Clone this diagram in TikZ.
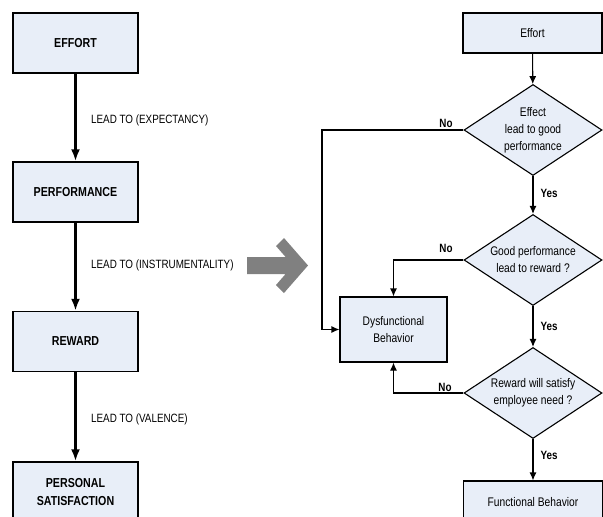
\documentclass[tikz,border=0pt]{standalone}
\usepackage{fontspec}
\setmainfont[FakeStretch=0.82]{Liberation Sans}
\usetikzlibrary{shapes.geometric,arrows.meta,calc}
\definecolor{boxfill}{RGB}{232,238,248}
\definecolor{arrowgray}{RGB}{128,128,128}
\begin{document}
\begin{tikzpicture}[x=1pt,y=-1pt,
  lbox/.style={draw=black, line width=1.4pt, fill=boxfill, minimum width=125pt, minimum height=60pt, inner sep=0pt, align=center, font=\fontsize{13}{18}\selectfont\bfseries},
  rbox/.style={draw=black, line width=1.1pt, fill=boxfill, minimum width=139pt, minimum height=40pt, inner sep=0pt, align=center, font=\fontsize{12.5}{17}\selectfont},
  dec/.style={diamond, aspect=1.52, draw=black, line width=1.1pt, fill=boxfill, minimum width=138pt, minimum height=91pt, inner sep=0pt, align=center, font=\fontsize{12.5}{17}\selectfont},
  bigarr/.style={line width=2.6pt, -{Latex[length=12pt,width=9pt]}},
  smallarr/.style={line width=1.1pt, -{Latex[length=8pt,width=7pt]}},
  lbl/.style={font=\fontsize{12}{14}\selectfont, anchor=west, inner sep=0pt},
  yn/.style={font=\fontsize{12}{14}\selectfont\bfseries, inner sep=0pt}
]
\useasboundingbox (0,0) rectangle (603,517);
% left column
\node[lbox] (effort) at (75.5,43) {EFFORT};
\node[lbox] (perf) at (75.5,192) {PERFORMANCE};
\node[lbox] (reward) at (75.5,341.5) {REWARD};
\node[lbox] (pers) at (75.5,492) {PERSONAL\\SATISFACTION};
\draw[bigarr] (effort) -- (perf);
\draw[bigarr] (perf) -- (reward);
\draw[bigarr] (reward) -- (pers);
\node[lbl] (l1) at (91,120) {LEAD TO (EXPECTANCY)};
\node[lbl] (l2) at (91,265) {LEAD TO (INSTRUMENTALITY)};
\node[lbl] (l3) at (91,419) {LEAD TO (VALENCE)};
% gray arrow
\fill[arrowgray] (247,257) -- (285.6,257) -- (276,246) -- (284,238) -- (308,265.5) -- (284,293) -- (276,285) -- (285.6,274) -- (247,274) -- cycle;
% right column
\node[rbox] (reff) at (532.5,33) {Effort};
\node[dec] (d1) at (533,130) {Effect\\lead to good\\performance};
\node[dec] (d2) at (533,260) {Good performance\\lead to reward ?};
\node[dec] (d3) at (533,393) {Reward will satisfy\\employee need ?};
\node[rbox, minimum height=42pt] (func) at (533,502) {Functional Behavior};
\node[rbox, minimum width=107pt, minimum height=65pt] (dys) at (393.5,329.5) {Dysfunctional\\Behavior};
\coordinate (c1) at (322,0);
\draw[smallarr] (reff) -- (d1);
\draw[smallarr] (d1) -- (d2);
\draw[smallarr] (d2) -- (d3);
\draw[smallarr] (d3) -- (func);
\draw[smallarr] (d1.west) -- (d1.west -| c1) |- (dys.west);
\draw[smallarr] (d2.west) -| (dys.north);
\draw[smallarr] (d3.west) -| (dys.south);
\node[yn] (no1) at (446,123) {No};
\node[yn] (no2) at (446,248) {No};
\node[yn] (no3) at (445,387) {No};
\node[yn] (yes1) at (549,193) {Yes};
\node[yn] (yes2) at (549,326) {Yes};
\node[yn] (yes3) at (549,455) {Yes};
\end{tikzpicture}
\end{document}
